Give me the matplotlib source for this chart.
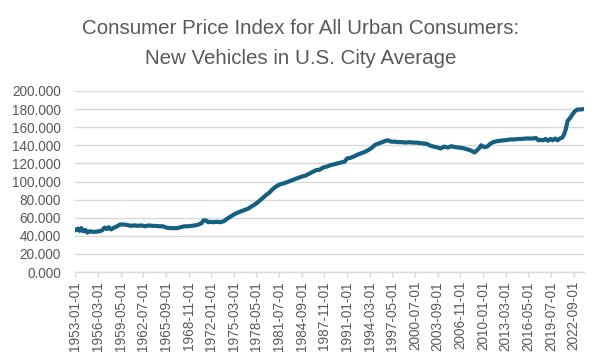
import matplotlib
matplotlib.use("Agg")
import matplotlib.pyplot as plt

# readings taken off the reference chart (month, index value)
DATES = [
    "1953-01", "1953-05", "1953-08", "1953-11", "1954-02", "1954-06", "1954-09",
    "1955-01", "1955-06", "1955-12", "1956-05", "1956-10", "1957-02", "1957-06",
    "1957-09", "1958-01", "1958-06", "1958-11", "1959-04", "1959-10", "1960-04",
    "1960-10", "1961-04", "1961-10", "1962-04", "1962-10", "1963-04", "1963-10",
    "1964-04", "1964-10", "1965-04", "1965-10", "1966-04", "1966-10", "1967-04",
    "1967-10", "1968-04", "1968-10", "1969-04", "1969-10", "1970-04", "1970-09",
    "1970-12", "1971-04", "1971-08", "1971-11", "1972-04", "1972-10", "1973-04",
    "1973-10", "1974-03", "1974-09", "1975-03", "1975-09", "1976-03", "1976-09",
    "1977-03", "1977-09", "1978-03", "1978-09", "1979-03", "1979-09", "1980-03",
    "1980-09", "1981-03", "1981-09", "1982-03", "1982-09", "1983-03", "1983-09",
    "1984-03", "1984-09", "1985-03", "1985-09", "1986-03", "1986-09", "1987-03",
    "1987-09", "1988-03", "1988-09", "1989-03", "1989-09", "1990-03", "1990-09",
    "1991-01", "1991-06", "1991-12", "1992-06", "1992-12", "1993-06", "1993-12",
    "1994-06", "1994-12", "1995-06", "1995-12", "1996-06", "1996-10", "1997-03",
    "1997-09", "1998-03", "1998-09", "1999-03", "1999-09", "2000-03", "2000-09",
    "2001-03", "2001-09", "2002-03", "2002-09", "2003-03", "2003-09", "2004-02",
    "2004-08", "2005-02", "2005-08", "2006-02", "2006-08", "2007-02", "2007-08",
    "2008-02", "2008-07", "2008-11", "2009-03", "2009-07", "2009-10", "2010-03",
    "2010-08", "2011-01", "2011-06", "2011-12", "2012-06", "2012-12", "2013-06",
    "2013-12", "2014-06", "2014-12", "2015-06", "2015-12", "2016-06", "2016-12",
    "2017-06", "2017-10", "2018-02", "2018-06", "2018-10", "2019-02", "2019-06",
    "2019-10", "2020-02", "2020-06", "2020-10", "2021-02", "2021-05", "2021-08",
    "2021-11", "2022-03", "2022-07", "2022-11", "2023-03", "2023-08", "2024-01",
]
VALUES = [
    46.0, 48.0, 45.5, 48.5, 45.0, 46.5, 43.5,
    45.0, 44.5, 44.5, 45.0, 46.0, 49.0, 47.5,
    49.5, 47.0, 49.0, 50.5, 52.5, 52.5, 52.0,
    51.0, 51.5, 51.0, 51.5, 50.5, 51.5, 51.0,
    51.0, 50.5, 50.5, 49.0, 48.5, 48.5, 48.5,
    49.5, 50.5, 50.5, 51.0, 51.5, 52.5, 54.0,
    57.0, 57.0, 55.0, 55.5, 55.0, 55.5, 55.0,
    56.0, 58.5, 61.0, 63.5, 65.5, 67.0, 68.5,
    70.0, 72.5, 75.0, 78.0, 81.5, 85.0, 88.0,
    92.0, 95.0, 97.0, 98.0, 99.5, 101.0, 102.5,
    104.0, 105.5, 106.5, 108.5, 110.5, 112.5, 113.0,
    115.5, 116.5, 118.0, 119.0, 120.0, 121.0, 122.0,
    125.5, 126.0, 127.5, 129.5, 131.0, 132.5, 134.5,
    137.0, 140.5, 142.0, 143.5, 145.0, 145.5, 144.0,
    144.0, 143.5, 143.5, 143.0, 143.5, 143.0, 143.0,
    142.5, 142.0, 141.5, 139.5, 138.5, 137.5, 136.5,
    138.5, 137.5, 139.0, 138.0, 137.5, 137.0, 136.0,
    135.0, 133.5, 132.0, 134.5, 137.0, 140.0, 138.0,
    138.5, 141.5, 143.5, 144.5, 145.0, 145.5, 146.0,
    146.5, 146.5, 147.0, 147.0, 147.5, 147.5, 147.5,
    148.0, 145.5, 146.0, 145.5, 147.0, 145.0, 147.0,
    145.5, 147.5, 145.5, 147.5, 148.5, 152.0, 158.0,
    167.0, 170.0, 174.0, 177.5, 179.5, 179.5, 180.0,
]
X_LABELS = [
    "1953-01-01", "1956-03-01", "1959-05-01", "1962-07-01", "1965-09-01",
    "1968-11-01", "1972-01-01", "1975-03-01", "1978-05-01", "1981-07-01",
    "1984-09-01", "1987-11-01", "1991-01-01", "1994-03-01", "1997-05-01",
    "2000-07-01", "2003-09-01", "2006-11-01", "2010-01-01", "2013-03-01",
    "2016-05-01", "2019-07-01", "2022-09-01",
]
Y_TICKS = [0, 20, 40, 60, 80, 100, 120, 140, 160, 180, 200]

TITLE_1 = "Consumer Price Index for All Urban Consumers:"
TITLE_2 = "New Vehicles in U.S. City Average"


def month_index(s):
    y, m = s[:7].split("-")
    return (int(y) - 1953) * 12 + int(m) - 1


LINE = "#156082"
GREY_TXT = "#595959"
GRID = "#D9D9D9"

plt.rcParams["font.family"] = ["Liberation Sans", "DejaVu Sans"]

fig = plt.figure(figsize=(6.03, 3.63), dpi=100)
ax = fig.add_axes([75 / 603, 1 - 272 / 363, (584 - 75) / 603, (272 - 91) / 363])

xs = [month_index(d) for d in DATES]
ax.plot(xs, VALUES, color=LINE, linewidth=3.0, solid_joinstyle="round",
        solid_capstyle="round", zorder=3)

ax.set_ylim(0, 200)
ax.set_xlim(-0.5, 853.5)
ax.set_yticks(Y_TICKS)
ax.set_yticklabels([f"{v:.3f}" for v in Y_TICKS])
ax.set_xticks([month_index(s) for s in X_LABELS])
ax.set_xticklabels(X_LABELS, rotation=90)

ax.grid(axis="y", color=GRID, linewidth=1.0, zorder=0)
for side in ["top", "right", "left"]:
    ax.spines[side].set_visible(False)
ax.spines["bottom"].set_color(GRID)
ax.spines["bottom"].set_linewidth(1.0)
ax.spines["bottom"].set_zorder(1)

ax.tick_params(axis="y", length=0, pad=10, labelsize=9.8, labelcolor=GREY_TXT)
ax.tick_params(axis="x", length=3.5, width=1.0, color=GRID, pad=3,
               labelsize=9.8, labelcolor=GREY_TXT)

fig.text(0.498, 1 - 34.3 / 363, TITLE_1, ha="center", va="baseline",
         fontsize=14.8, color=GREY_TXT)
fig.text(0.498, 1 - 64.3 / 363, TITLE_2, ha="center", va="baseline",
         fontsize=14.8, color=GREY_TXT)

fig.savefig("out.png", dpi=100)
